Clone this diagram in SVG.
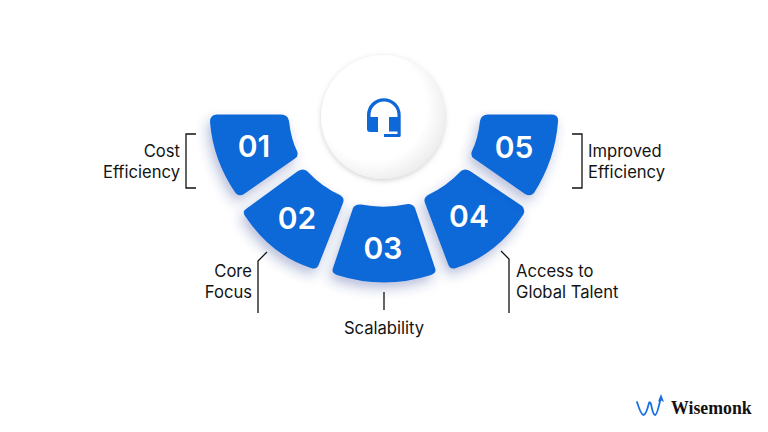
<svg xmlns="http://www.w3.org/2000/svg" width="768" height="432" viewBox="0 0 768 432">
<style>
.seg{fill:#0f68d8;filter:url(#sh)}
.num{font:600 30px Inter,"Liberation Sans",sans-serif;fill:#fff;text-anchor:middle}
.lab{font:400 16.600px Inter,"Liberation Sans",sans-serif;fill:#141414}
.end{text-anchor:end}
.mid{text-anchor:middle}
.ln{fill:none;stroke:#111;stroke-width:1.300}
.ic{fill:#0f68d8}
</style>
<defs>
<filter id="sh" x="-30%" y="-30%" width="170%" height="170%"><feDropShadow dx="-3" dy="6" stdDeviation="6" flood-color="#2f3f90" flood-opacity=".32"/></filter>
<filter id="cs" x="-30%" y="-30%" width="160%" height="160%"><feDropShadow dx="0" dy="1.500" stdDeviation="2.500" flood-color="#666" flood-opacity=".3"/></filter>
<radialGradient id="cg" cx=".42" cy=".42" r=".62"><stop offset=".7" stop-color="#fff"/><stop offset="1" stop-color="#ececec"/></radialGradient>
</defs>
<rect width="768" height="432" fill="#fff"/>
<g id="connectors">
<path class="ln" d="M196 134H186V188H196"/>
<path class="ln" d="M267 252L258 261V313"/>
<path class="ln" d="M384 292V310"/>
<path class="ln" d="M501 251L509 259V313"/>
<path class="ln" d="M572 134H582V188H572"/>
</g>
<g id="center"><circle cx="383" cy="117" r="62" fill="url(#cg)" filter="url(#cs)"/>
<path class="ic" d="M367 117V115a16.800 16.800 0 0 1 33.700 0v20.500a1.500 1.500 0 0 1-1.500 1.500H384v-3h13.500V115a13.500 13.500 0 0 0-27 0v2z"/>
<path class="ic" d="M367 117h11v15h-8a3 3 0 0 1-3-3z"/>
<path class="ic" d="M389 117h11v14.500h-11z"/></g>
<g id="node1"><path class="seg" d="M217 114.500L281 114.500Q288 114.500 289 121Q291 139 297 151Q299 156 295 158.500L244 194Q239 197 235.500 193Q213 160 210 122Q210 114.500 217 114.500Z"/><text class="num" x="254" y="157">01</text></g>
<g id="node2"><path class="seg" d="M298 171Q303 168 307 171Q322 187 340 195Q345 198 343 203L319 264Q317 270 311 268Q271 255 245 216Q242 211 246 209Z"/><text class="num" x="297" y="229">02</text></g>
<g id="node3"><path class="seg" d="M361 204.500Q384 209 408 204Q413 204 415 208L435 268Q437 273 431 275Q384 290 337 275Q331 273 333 268L353 208Q355 204 361 204.500Z"/><text class="num" x="383" y="259">03</text></g>
<g id="node4"><path class="seg" d="M461 171Q465 168 470 171L522 206Q526 210 523 215Q497 255 456 268Q450 270 448 264L425 203Q423 198 428 195Q447 186 461 171Z"/><text class="num" x="469" y="227">04</text></g>
<g id="node5"><path class="seg" d="M488 114.500H551Q559 114.500 558 122Q555 160 534 193Q530 197 525 194L474 158.500Q470 156 472 151Q478 139 480 121Q481 114.500 488 114.500Z"/><text class="num" x="514" y="158">05</text></g>
<g id="label1" class="lab"><text class="end" x="180" y="157">Cost</text><text class="end" x="180" y="178">Efficiency</text></g>
<g id="label2" class="lab"><text class="end" x="252" y="277">Core</text><text class="end" x="252" y="298">Focus</text></g>
<g id="label3" class="lab"><text class="mid" x="384" y="334">Scalability</text></g>
<g id="label4" class="lab"><text x="516" y="277">Access to</text><text x="516" y="298">Global Talent</text></g>
<g id="label5" class="lab"><text x="588" y="157">Improved</text><text x="588" y="178">Efficiency</text></g>
<g id="logo">
<path d="M637 402Q641 415 643.500 415Q646 415 649 403Q649.500 401 651 404Q653 415 655 415Q657 415 660.500 399" fill="none" stroke="#1a6fe0" stroke-width="1.800" stroke-linecap="round"/>
<path d="M661 394L664 402L661 400.500L658 401.500Z" fill="#1a6fe0"/>
<text x="671" y="414" font-family="'Liberation Serif',serif" font-weight="700" font-size="17.800" fill="#111">Wisemonk</text></g>
</svg>
